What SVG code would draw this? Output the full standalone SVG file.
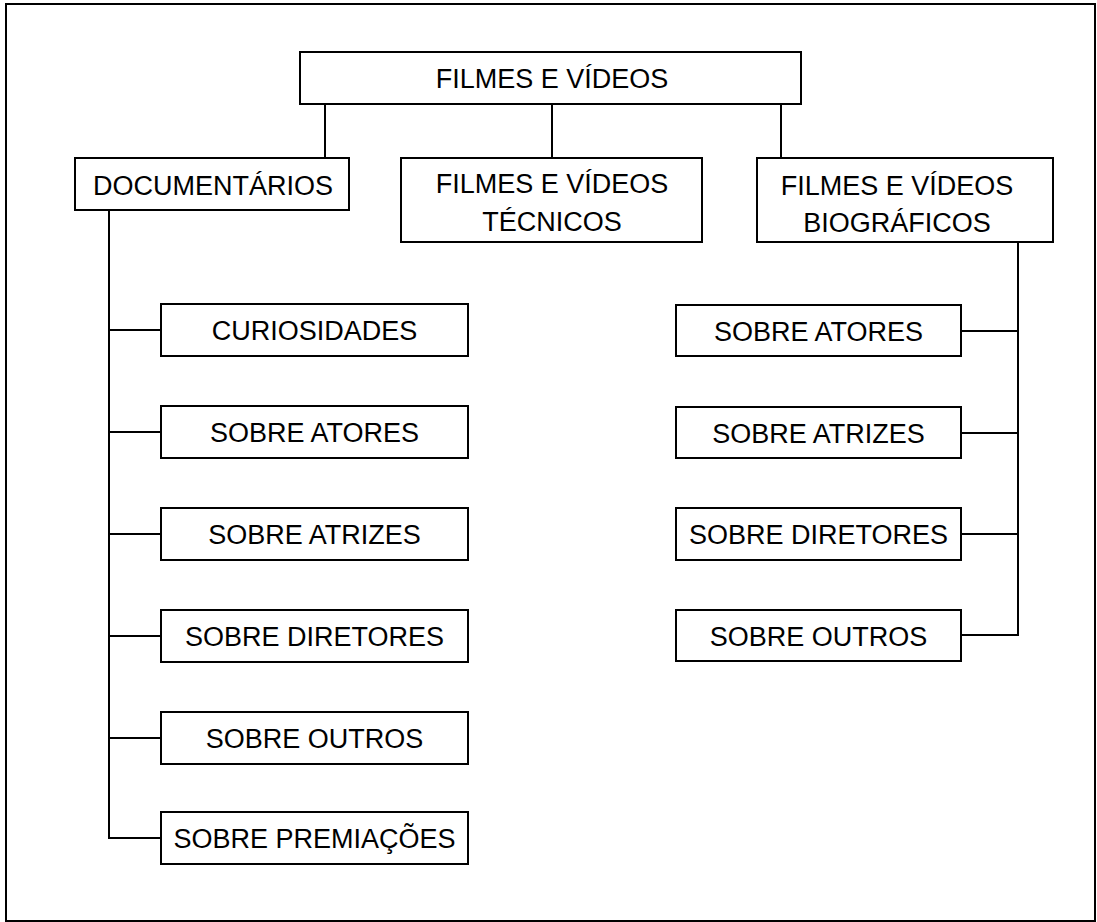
<svg xmlns="http://www.w3.org/2000/svg" width="1097" height="922" viewBox="0 0 1097 922">
<style>
.box{fill:#fff;stroke:#000;stroke-width:2}
.t{font-family:"Liberation Sans",Arial,sans-serif;font-size:27px;fill:#000;text-anchor:middle}
.c{fill:none;stroke:#000;stroke-width:2}
</style>
<rect x="0" y="0" width="1097" height="922" fill="#fff"/>
<rect x="6" y="4" width="1089" height="917" fill="none" stroke="#000" stroke-width="2"/>
<g id="connectors">
<path class="c" d="M325 104V158M552 104V158M781 104V158"/>
<path class="c" d="M109 210V838H161M109 330H161M109 432H161M109 534H161M109 636H161M109 738H161"/>
<path class="c" d="M1018 242V635H961M961 331H1018M961 433H1018M961 534H1018"/>
</g>
<g id="root"><rect class="box" x="300" y="52" width="501" height="52"/><text class="t" x="552" y="88">FILMES E VÍDEOS</text></g>
<g id="doc"><rect class="box" x="75" y="158" width="274" height="52"/><text class="t" x="213" y="195">DOCUMENTÁRIOS</text></g>
<g id="tec"><rect class="box" x="401" y="158" width="301" height="84"/><text class="t" x="552" y="193">FILMES E VÍDEOS</text><text class="t" x="552" y="231">TÉCNICOS</text></g>
<g id="bio"><rect class="box" x="757" y="158" width="296" height="84"/><text class="t" x="897" y="195">FILMES E VÍDEOS</text><text class="t" x="897" y="232">BIOGRÁFICOS</text></g>
<g id="d1"><rect class="box" x="161" y="304" width="307" height="52"/><text class="t" x="314.5" y="340">CURIOSIDADES</text></g>
<g id="d2"><rect class="box" x="161" y="406" width="307" height="52"/><text class="t" x="314.5" y="442">SOBRE ATORES</text></g>
<g id="d3"><rect class="box" x="161" y="508" width="307" height="52"/><text class="t" x="314.5" y="544">SOBRE ATRIZES</text></g>
<g id="d4"><rect class="box" x="161" y="610" width="307" height="52"/><text class="t" x="314.5" y="646">SOBRE DIRETORES</text></g>
<g id="d5"><rect class="box" x="161" y="712" width="307" height="52"/><text class="t" x="314.5" y="748">SOBRE OUTROS</text></g>
<g id="d6"><rect class="box" x="161" y="812" width="307" height="52"/><text class="t" x="314.5" y="848">SOBRE PREMIAÇÕES</text></g>
<g id="b1"><rect class="box" x="676" y="305" width="285" height="51"/><text class="t" x="818.5" y="341">SOBRE ATORES</text></g>
<g id="b2"><rect class="box" x="676" y="407" width="285" height="51"/><text class="t" x="818.5" y="443">SOBRE ATRIZES</text></g>
<g id="b3"><rect class="box" x="676" y="508" width="285" height="52"/><text class="t" x="818.5" y="544">SOBRE DIRETORES</text></g>
<g id="b4"><rect class="box" x="676" y="610" width="285" height="51"/><text class="t" x="818.5" y="646">SOBRE OUTROS</text></g>
</svg>
